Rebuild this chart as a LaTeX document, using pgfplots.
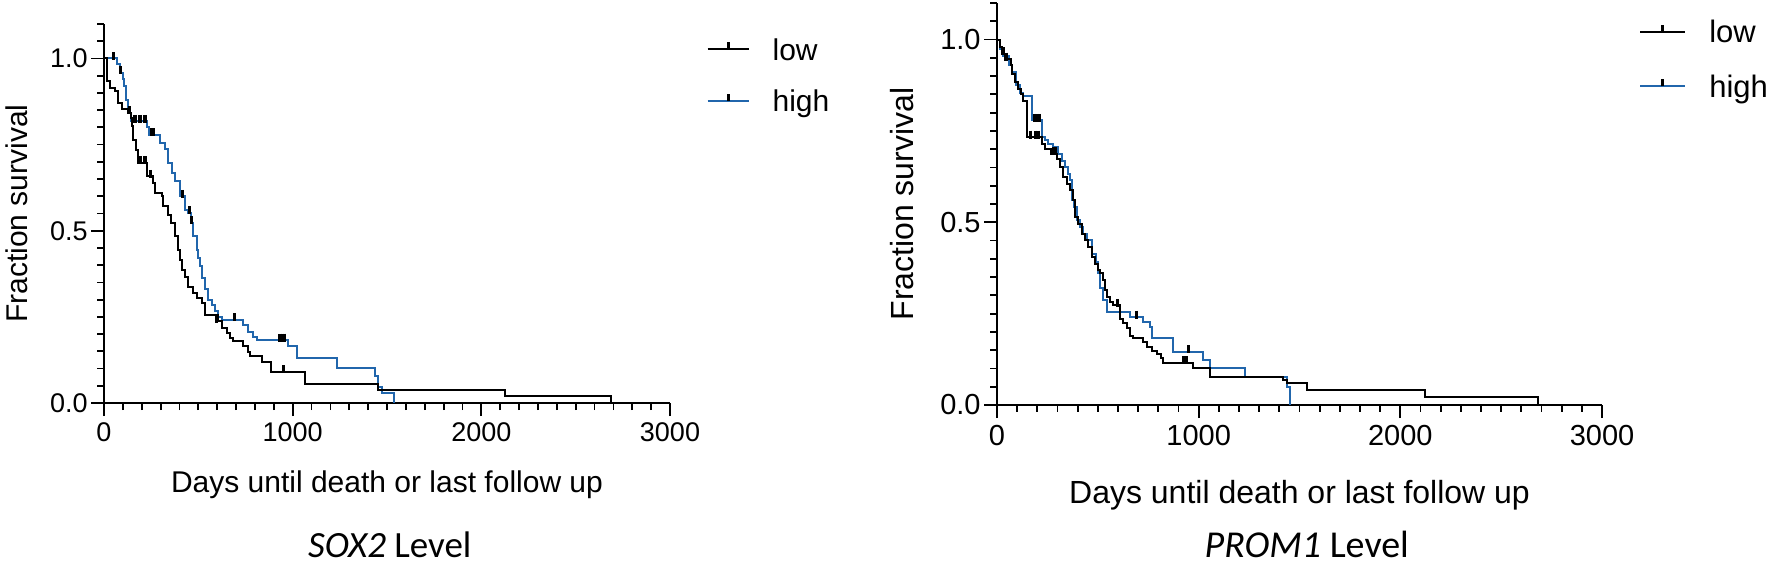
\documentclass[border=0pt]{standalone}
\usepackage{fontspec}
\setmainfont{Liberation Sans}
\newfontfamily\calibri{Carlito}
\usepackage{pgfplots}
\usepackage{pgfplotstable}
\pgfplotsset{compat=1.18}
\definecolor{kmblue}{HTML}{2166AC}

% ---- SOX2 ----
\pgfplotstableread{
d s
0 1.0
18 0.934
32 0.915
58 0.905
76 0.872
94 0.852
129 0.843
141 0.826
150 0.803
155 0.764
170 0.735
182 0.697
226 0.658
261 0.639
270 0.61
306 0.60
315 0.571
341 0.545
357 0.523
376 0.484
394 0.445
405 0.416
412 0.387
429 0.367
447 0.338
473 0.319
491 0.305
518 0.29
535 0.256
606 0.237
624 0.217
650 0.203
668 0.189
685 0.179
738 0.164
765 0.149
774 0.135
836 0.12
883 0.091
1065 0.055
1454 0.038
2125 0.021
2686 0.0
}\soxlow
\pgfplotstableread{
d s
0 1.0
67 0.983
85 0.959
99 0.94
106 0.92
117 0.88
129 0.857
138 0.843
141 0.818
226 0.80
240 0.779
297 0.755
323 0.736
341 0.697
359 0.668
376 0.645
403 0.60
429 0.561
447 0.552
459 0.523
473 0.484
491 0.445
500 0.42
509 0.397
520 0.363
535 0.33
553 0.299
571 0.285
588 0.266
606 0.251
624 0.242
738 0.227
765 0.207
791 0.193
809 0.183
977 0.164
1021 0.13
1233 0.103
1436 0.077
1454 0.047
1472 0.028
1539 0.0
}\soxhigh
\pgfplotstableread{
d s
135 0.843
191 0.697
217 0.697
245 0.658
597 0.237
950 0.091
}\soxlowc
\pgfplotstableread{
d s
49 1.0
88 0.959
164 0.818
191 0.818
217 0.818
250 0.779
262 0.779
417 0.60
452 0.552
465 0.523
691 0.242
933 0.183
945 0.183
954 0.183
}\soxhighc

% ---- PROM1 ----
\pgfplotstableread{
d s
0 1.0
15 0.98
26 0.961
40 0.947
69 0.93
76 0.906
89 0.883
102 0.865
119 0.852
131 0.833
150 0.733
221 0.715
238 0.70
270 0.688
296 0.674
313 0.651
329 0.624
346 0.606
362 0.587
378 0.56
387 0.515
403 0.496
420 0.469
436 0.451
453 0.433
470 0.405
487 0.387
500 0.37
511 0.36
527 0.342
535 0.314
544 0.296
560 0.282
577 0.273
610 0.235
626 0.224
643 0.21
660 0.19
676 0.182
726 0.173
743 0.159
767 0.148
792 0.14
815 0.128
825 0.116
973 0.10
1056 0.077
1420 0.068
1436 0.06
1536 0.041
2122 0.021
2681 0.0
}\promlow
\pgfplotstableread{
d s
0 1.0
15 0.975
30 0.955
60 0.93
76 0.91
95 0.875
115 0.855
131 0.845
172 0.779
221 0.733
238 0.724
255 0.715
280 0.706
304 0.688
321 0.669
337 0.651
354 0.633
362 0.615
370 0.56
380 0.542
395 0.505
412 0.487
428 0.469
445 0.451
470 0.414
490 0.39
500 0.36
511 0.32
527 0.287
544 0.255
660 0.241
726 0.228
759 0.214
767 0.182
874 0.146
1023 0.123
1056 0.10
1230 0.077
1436 0.05
1453 0.0
}\promhigh
\pgfplotstableread{
d s
30 0.961
45 0.947
165 0.733
190 0.733
205 0.733
280 0.688
290 0.688
598 0.273
924 0.116
940 0.116
}\promlowc
\pgfplotstableread{
d s
185 0.779
200 0.779
212 0.779
693 0.241
949 0.146
}\promhighc

\pgfplotsset{
  km/.style={
    scale only axis,
    axis x line*=bottom, axis y line*=left,
    xmin=0, xmax=3000, ymin=0, ymax=1.1,
    xtick={0,1000,2000,3000}, xticklabels={0,1000,2000,3000},
    minor xtick={100,200,300,400,500,600,700,800,900,1100,1200,1300,1400,1500,1600,1700,1800,1900,2100,2200,2300,2400,2500,2600,2700,2800,2900},
    ytick={0,0.5,1}, yticklabels={0.0,0.5,1.0},
    minor ytick={0.05,0.1,0.15,0.2,0.25,0.3,0.35,0.4,0.45,0.55,0.6,0.65,0.7,0.75,0.8,0.85,0.9,0.95,1.05,1.1},
    tick align=outside,
    major tick length=6.5pt, minor tick length=3.5pt,
    axis line style={line width=1pt, black},
    every tick/.style={line width=0.9pt, black},
    yticklabel style={inner xsep=1.5pt},
    clip=false,
    legend cell align=left,
  },
  kmline/.style={const plot mark left, line width=1pt, no markers},
  cens/.style={only marks, mark=|, mark size=2pt, black, line width=1.6pt,
    every mark/.append style={yshift=1.2pt}},
}

\begin{document}
\begin{tikzpicture}
\path (0pt,0pt) rectangle (885pt,283.5pt);

\begin{axis}[km,
  at={(52pt,82pt)}, anchor=south west,
  width=283pt, height=189.5pt,
  tick label style={font=\fontsize{13.5}{16}\selectfont},
  xlabel={Days until death or last follow up},
  ylabel={Fraction survival},
  every axis x label/.style={at={(axis description cs:0.5,-0.235)}, anchor=base, inner sep=0pt, font=\fontsize{15}{18}\selectfont},
  every axis y label/.style={at={(axis description cs:-0.136,0.5)}, rotate=90, anchor=base, inner sep=0pt, font=\fontsize{15}{18}\selectfont},
  legend style={at={(axis description cs:1.064,0.963)}, anchor=north west, draw=none, fill=none,
    inner sep=0pt, font=\fontsize{15}{18}\selectfont, row sep=15pt, column sep=11.5pt,
    nodes={inner sep=0pt, text depth=0pt}},
  legend image code/.code={
      \draw[#1] (0pt,0pt) -- (20.5pt,0pt);
      \draw[black, line width=1.6pt] (10.25pt,0pt) -- (10.25pt,3.5pt);
  },
]
\addlegendimage{black, line width=1pt}
\addlegendentry{low}
\addlegendimage{kmblue, line width=1pt}
\addlegendentry{high}
\addplot[kmline, kmblue, forget plot] table[x=d,y=s] {\soxhigh};
\addplot[kmline, black, forget plot] table[x=d,y=s] {\soxlow};
\addplot[cens, forget plot] table[x=d,y=s] {\soxlowc};
\addplot[cens, forget plot] table[x=d,y=s] {\soxhighc};
\node[anchor=base, inner sep=0pt, font=\calibri\fontsize{18.5}{22}\selectfont] at (axis description cs:0.505,-0.408) {\textit{SOX2} Level};
\end{axis}

\begin{axis}[km,
  at={(498.5pt,81pt)}, anchor=south west,
  width=302.5pt, height=201pt,
  tick label style={font=\fontsize{14.5}{17}\selectfont},
  xlabel={Days until death or last follow up},
  ylabel={Fraction survival},
  every axis x label/.style={at={(axis description cs:0.5,-0.244)}, anchor=base, inner sep=0pt, font=\fontsize{16}{19}\selectfont},
  every axis y label/.style={at={(axis description cs:-0.1388,0.5)}, rotate=90, anchor=base, inner sep=0pt, font=\fontsize{16}{19}\selectfont},
  legend style={at={(axis description cs:1.061,0.958)}, anchor=north west, draw=none, fill=none,
    inner sep=0pt, font=\fontsize{15.5}{18}\selectfont, row sep=16.2pt, column sep=11.5pt,
    nodes={inner sep=0pt, text depth=0pt}},
  legend image code/.code={
      \draw[#1] (0pt,0pt) -- (22.5pt,0pt);
      \draw[black, line width=1.6pt] (11.25pt,0pt) -- (11.25pt,3.5pt);
  },
]
\addlegendimage{black, line width=1pt}
\addlegendentry{low}
\addlegendimage{kmblue, line width=1pt}
\addlegendentry{high}
\addplot[kmline, kmblue, forget plot] table[x=d,y=s] {\promhigh};
\addplot[kmline, black, forget plot] table[x=d,y=s] {\promlow};
\addplot[cens, forget plot] table[x=d,y=s] {\promlowc};
\addplot[cens, forget plot] table[x=d,y=s] {\promhighc};
\node[anchor=base, inner sep=0pt, font=\calibri\fontsize{19}{23}\selectfont] at (axis description cs:0.512,-0.38) {\textit{PROM1} Level};
\end{axis}
\end{tikzpicture}
\end{document}
